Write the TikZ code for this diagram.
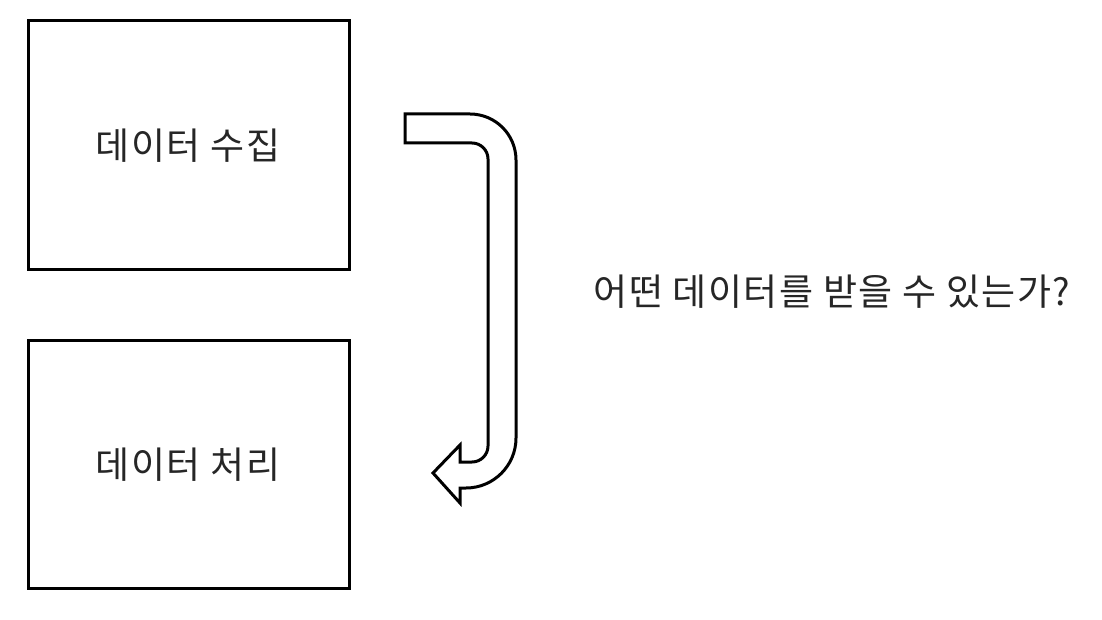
\documentclass[tikz,border=0pt]{standalone}
\usepackage{fontspec}
\setmainfont{Noto Sans CJK KR}[LetterSpace=4]
\begin{document}
\begin{tikzpicture}[x=1pt,y=-1pt,
  box/.style={draw=black,line width=3pt,minimum width=321pt,minimum height=248pt,inner sep=0pt},
  lbl/.style={font=\fontsize{37}{42}\selectfont,text=black!85,inner sep=0pt},
  bentarrow/.style={draw=black,line width=3pt,fill=white,line join=miter}]
\useasboundingbox (0,0) rectangle (1102,620);
\node[box] (collect) at (188.5,145) {};
\node[lbl] (collectText) at (188,146) {데이터 수집};
\node[box] (process) at (188.5,464.5) {};
\node[lbl] (processText) at (188,465) {데이터 처리};
\node[lbl] (question) at (832,292) {어떤 데이터를 받을 수 있는가?};
\draw[bentarrow] (405,114) -- (470,114)
  .. controls (495.4,114) and (516,134.6) .. (516,160)
  -- (516,438)
  .. controls (516,465.6) and (493.6,488) .. (466,488)
  -- (460,488) -- (460,503) -- (433,473) -- (460,445) -- (460,462) -- (472,462)
  .. controls (480.8,462) and (488,454.8) .. (488,446)
  -- (488,159)
  .. controls (488,150.2) and (480.8,143) .. (472,143)
  -- (405,143) -- cycle;
\end{tikzpicture}
\end{document}
